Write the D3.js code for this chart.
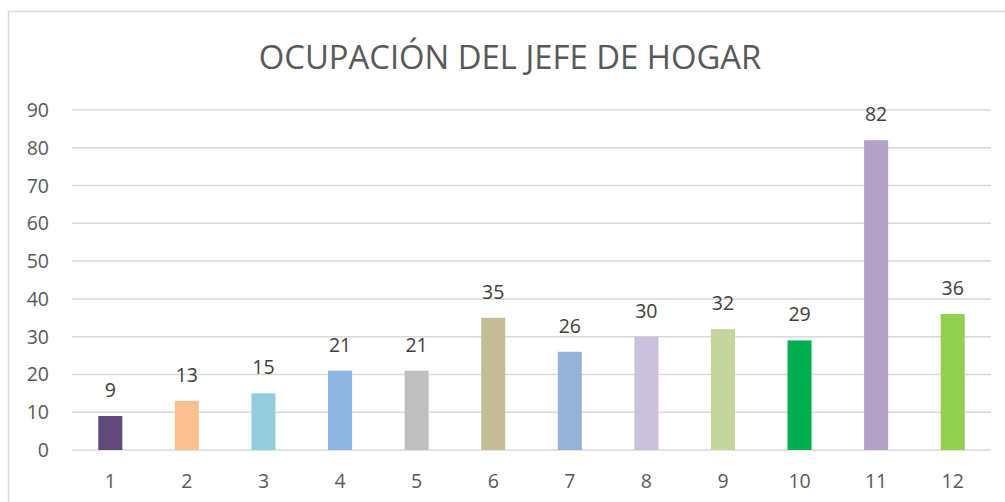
<!DOCTYPE html>
<html>
<head>
<meta charset="utf-8">
<script src="https://cdn.jsdelivr.net/npm/d3@7"></script>
<style>
  body { margin: 0; background: #fff; }
  text { font-family: "Open Sans", sans-serif; }
</style>
</head>
<body>
<script>
var categories = ["1", "2", "3", "4", "5", "6", "7", "8", "9", "10", "11", "12"];
var values = [9, 13, 15, 21, 21, 35, 26, 30, 32, 29, 82, 36];
var colors = ["#604A7B", "#FAC090", "#93CDDD", "#8EB4E3", "#BFBFBF", "#C4BD97",
  "#95B3D7", "#CCC1DA", "#C3D69B", "#00B050", "#B3A2C7", "#92D050"];
var yTicks = [0, 10, 20, 30, 40, 50, 60, 70, 80, 90];
var title = "OCUPACIÓN DEL JEFE DE HOGAR";

var W = 1005, H = 502;
var margin = { top: 110, right: 14, bottom: 52, left: 72 },
  width = W - margin.left - margin.right,
  height = H - margin.top - margin.bottom;

var root = d3.select("body").append("svg")
  .attr("width", W)
  .attr("height", H);

// chart frame (cropped on right and bottom)
root.append("rect")
  .attr("x", 8.5).attr("y", 11.5)
  .attr("width", W + 10).attr("height", H + 10)
  .attr("fill", "none")
  .attr("stroke", "#D9D9D9")
  .attr("stroke-width", 1.5);

root.append("text")
  .attr("x", 510)
  .attr("y", 69)
  .attr("text-anchor", "middle")
  .attr("font-size", 32.8)
  .attr("fill", "#595959")
  .text(title);

var svg = root.append("g")
  .attr("transform", "translate(" + margin.left + "," + margin.top + ")");

var x = d3.scaleBand()
  .domain(categories)
  .range([0, width])
  .paddingInner(0.686)
  .paddingOuter(0.343);

var y = d3.scaleLinear()
  .domain([0, 90])
  .range([height, 0]);

// gridlines
svg.selectAll(".grid")
  .data(yTicks)
  .enter().append("line")
  .attr("x1", 0).attr("x2", width)
  .attr("y1", function (d) { return y(d); })
  .attr("y2", function (d) { return y(d); })
  .attr("stroke", "#D9D9D9")
  .attr("stroke-width", 1.5);

// y labels
svg.selectAll(".ylab")
  .data(yTicks)
  .enter().append("text")
  .attr("x", -23)
  .attr("y", function (d) { return y(d) + 7; })
  .attr("text-anchor", "end")
  .attr("font-size", 19.5)
  .attr("fill", "#595959")
  .text(function (d) { return d; });

// bars
svg.selectAll(".bar")
  .data(values)
  .enter().append("rect")
  .attr("x", function (d, i) { return x(categories[i]); })
  .attr("y", function (d) { return y(d); })
  .attr("width", x.bandwidth())
  .attr("height", function (d) { return height - y(d); })
  .attr("fill", function (d, i) { return colors[i]; });

// value labels
svg.selectAll(".val")
  .data(values)
  .enter().append("text")
  .attr("x", function (d, i) { return x(categories[i]) + x.bandwidth() / 2; })
  .attr("y", function (d) { return y(d) - 19; })
  .attr("text-anchor", "middle")
  .attr("font-size", 19.5)
  .attr("fill", "#404040")
  .text(function (d) { return d; });

// x labels
svg.selectAll(".xlab")
  .data(categories)
  .enter().append("text")
  .attr("x", function (d) { return x(d) + x.bandwidth() / 2; })
  .attr("y", height + 38)
  .attr("text-anchor", "middle")
  .attr("font-size", 19.5)
  .attr("fill", "#595959")
  .text(function (d) { return d; });
</script>
</body>
</html>
